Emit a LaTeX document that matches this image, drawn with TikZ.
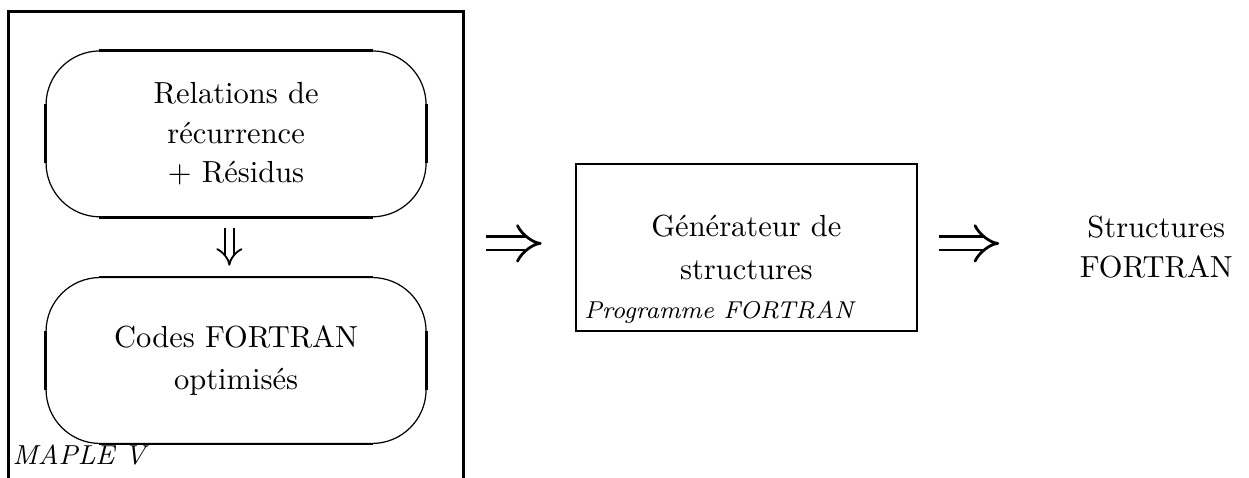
\documentclass[tikz,border=0pt]{standalone}
\usetikzlibrary{positioning,arrows.meta}

\begin{document}
\begin{tikzpicture}[
        x=1pt, y=1pt,
        maplebox/.style={rectangle, draw=black, line width=1pt, minimum width=149.2pt, minimum height=160pt},
        roundbox/.style={rectangle, rounded corners=17.7pt, draw=black, line width=0.4pt, minimum width=124.6pt, minimum height=54.4pt, align=center},
        side/.style={line width=0.8pt},
        genbox/.style={rectangle, draw=black, line width=0.8pt, minimum width=111.8pt, minimum height=54.75pt, align=center},
        tag/.style={font=\footnotesize\itshape, inner sep=0pt, anchor=base west},
        bigimplies/.style={double, double distance=3.5pt, line width=0.9pt, -{Implies}},
        smallimplies/.style={double, double distance=2.4pt, line width=0.6pt, -{Implies}}
    ]
    \useasboundingbox (0,0) rectangle (409.5,156.7);

    \node[maplebox] (maple) at (77.5,72.8) {};
    \node[tag, font=\small\itshape] (maplename) at (3.9,4.3) {MAPLE V};

    \node[roundbox] (rec) at (77.4,112.8) {Relations de\\[1pt]récurrence\\[1pt]+ Résidus};
    \node[roundbox] (code) at (77.4,38.5) {Codes FORTRAN\\[2pt]optimisés};
    \foreach \b in {rec,code} {
        \draw[side] ([xshift=17.7pt]\b.north west) -- ([xshift=-17.7pt]\b.north east);
        \draw[side] ([xshift=17.7pt]\b.south west) -- ([xshift=-17.7pt]\b.south east);
        \draw[side] ([yshift=-17.7pt]\b.north west) -- ([yshift=17.7pt]\b.south west);
        \draw[side] ([yshift=-17.7pt]\b.north east) -- ([yshift=17.7pt]\b.south east);
    }

    \node[genbox] (gen) at (244.7,75.6) {Générateur de\\[2pt]structures};
    \node[tag] (genname) at ([xshift=3pt,yshift=4.3pt]gen.south west) {Programme FORTRAN};

    \node[align=center] (res) [right=49.5pt of gen] {Structures\\[1pt]FORTRAN};

    \draw[smallimplies, shorten <=3.3pt, shorten >=3.7pt] ([xshift=-2.2pt]rec.south) -- ([xshift=-2.2pt]code.north);
    \draw[bigimplies, shorten <=6.9pt, shorten >=10.8pt] ([yshift=1.3pt]maple.east |- gen.west) -- ([yshift=1.3pt]gen.west);
    \draw[bigimplies, shorten <=6.9pt, shorten >=22.9pt] ([yshift=1.3pt]gen.east) -- ([yshift=1.3pt]res.west);
\end{tikzpicture}
\end{document}
